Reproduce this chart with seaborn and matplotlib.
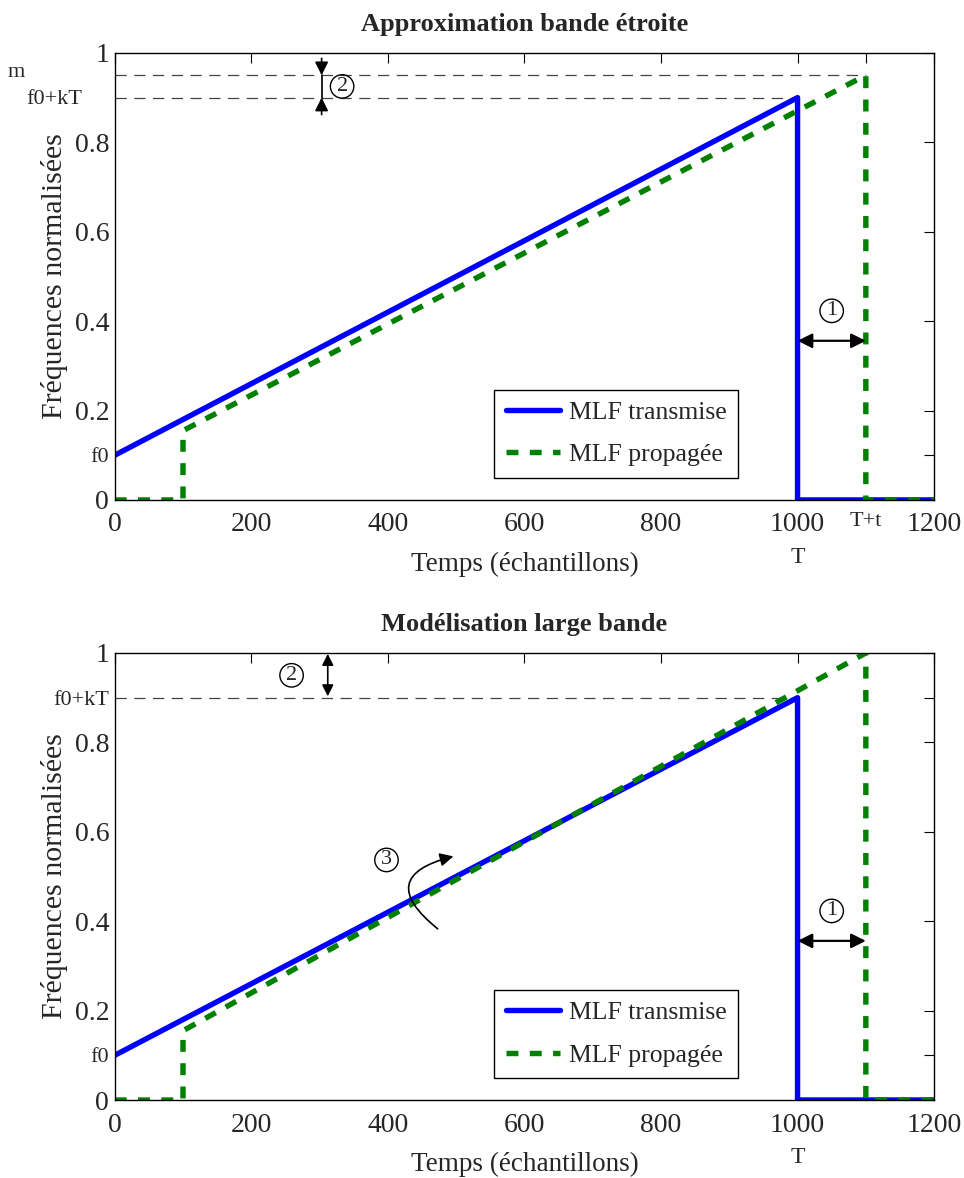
import numpy as np
import pandas as pd
import matplotlib
matplotlib.use('Agg')
import matplotlib.pyplot as plt
import matplotlib.transforms as mtransforms
import seaborn as sns

# data
time_tx = [0, 1000, 1000, 1200]
freq_tx = [0.1, 0.9, 0.0, 0.0]
time_rx = [0, 100, 100, 1100, 1100, 1200]
freq_rx_narrow = [0.0, 0.0, 0.155, 0.95, 0.0, 0.0]
freq_rx_wide = [0.0, 0.0, 0.155, 1.0, 0.0, 0.0]

titles = ['Approximation bande étroite', 'Modélisation large bande']
legend_labels = ['MLF transmise', 'MLF propagée']
xticks = [0, 200, 400, 600, 800, 1000, 1200]

sns.set_style('white')
plt.rcParams['font.family'] = ['Liberation Serif', 'DejaVu Serif']

fig = plt.figure(figsize=(9.64, 11.78), dpi=100)
ax1 = fig.add_axes([0.119, 0.5756, 0.850, 0.3795])
ax2 = fig.add_axes([0.119, 0.0662, 0.850, 0.3795])

FS = 20
SMALL = 16
CIRC = dict(boxstyle='circle,pad=0.1', fc='none', ec='black', lw=1)


def base(ax, rx, title):
    sns.lineplot(x=time_tx, y=freq_tx, ax=ax, color='#0000ff', lw=3.9,
                 sort=False, estimator=None, label=legend_labels[0])
    sns.lineplot(x=time_rx, y=rx, ax=ax, color='#008000', lw=3.9,
                 sort=False, estimator=None, label=legend_labels[1],
                 linestyle=(0, (2.2, 2.1)))
    ax.set_xlim(0, 1200)
    ax.set_ylim(0, 1)
    ax.set_title(title, fontsize=19, fontweight='bold', pad=16)
    ax.set_ylabel('Fréquences normalisées', fontsize=21.5)
    ax.set_xlabel('Temps (échantillons)', fontsize=19.5)
    ax.xaxis.set_label_coords(0.5, -0.116)
    ax.yaxis.set_label_coords(-0.0574, 0.5)
    for s in ax.spines.values():
        s.set_visible(True)
        s.set_color('black')
        s.set_linewidth(1.0)
    ax.tick_params(direction='in', top=True, right=True, length=7,
                   width=0.8, labelsize=FS, color='black')
    ax.tick_params(axis='x', pad=9)
    ax.tick_params(axis='y', pad=4)
    leg = ax.legend(loc='lower right', bbox_to_anchor=(0.761, 0.049),
                    borderaxespad=0, fontsize=18.5, fancybox=False,
                    framealpha=1, edgecolor='black', handlelength=2.1,
                    borderpad=0.45, labelspacing=0.75, handletextpad=0.35)
    leg.get_frame().set_linewidth(1.0)
    # arrow 1 (delay)
    ax.annotate('', xy=(1000, 0.356), xytext=(1100, 0.356),
                arrowprops=dict(arrowstyle='<|-|>', color='black', lw=1.6,
                                mutation_scale=22, shrinkA=0, shrinkB=0))
    ax.text(1050, 0.423, '1', fontsize=16, ha='center', va='center', bbox=CIRC)
    # "T" under 1000
    trans = mtransforms.blended_transform_factory(ax.transData, ax.transAxes)
    ax.text(1000, -0.128, 'T', transform=trans, fontsize=SMALL + 1,
            ha='center', va='center')


def shrink_labels(labels):
    for lab in labels:
        if lab.get_text() in ('f0', 'f0+kT', 'T+t'):
            lab.set_fontsize(SMALL)


base(ax1, freq_rx_narrow, titles[0])
base(ax2, freq_rx_wide, titles[1])

# top panel
ax1.set_xticks([0, 200, 400, 600, 800, 1000, 1100, 1200])
ax1.set_xticklabels(['0', '200', '400', '600', '800', '1000', 'T+t', '1200'])
ax1.set_yticks([0, 0.1, 0.2, 0.4, 0.6, 0.8, 1])
ax1.set_yticklabels(['0', 'f0', '0.2', '0.4', '0.6', '0.8', '1'])
shrink_labels(ax1.get_xticklabels() + ax1.get_yticklabels())
ax1.text(-0.110, 0.957, 'm', transform=ax1.transAxes, fontsize=SMALL,
         ha='right', va='center')
ax1.text(-0.040, 0.895, 'f0+kT', transform=ax1.transAxes, fontsize=SMALL,
         ha='right', va='center')
ax1.plot([0, 1100], [0.95, 0.95], color='#444444', lw=0.9, ls=(0, (9, 6)), zorder=1)
ax1.plot([0, 1000], [0.9, 0.9], color='#444444', lw=0.9, ls=(0, (9, 6)), zorder=1)
ax1.plot([303, 303], [0.95, 0.9], color='black', lw=1.2)
ax1.annotate('', xy=(303, 0.95), xytext=(303, 0.988),
             arrowprops=dict(arrowstyle='-|>', color='black', lw=1.2,
                             mutation_scale=20, shrinkA=0, shrinkB=0))
ax1.annotate('', xy=(303, 0.9), xytext=(303, 0.862),
             arrowprops=dict(arrowstyle='-|>', color='black', lw=1.2,
                             mutation_scale=20, shrinkA=0, shrinkB=0))
ax1.text(333, 0.925, '2', fontsize=16, ha='center', va='center', bbox=CIRC)

# bottom panel
ax2.set_xticks(xticks)
ax2.set_xticklabels(['0', '200', '400', '600', '800', '1000', '1200'])
ax2.set_yticks([0, 0.1, 0.2, 0.4, 0.6, 0.8, 0.9, 1])
ax2.set_yticklabels(['0', 'f0', '0.2', '0.4', '0.6', '0.8', 'f0+kT', '1'])
shrink_labels(ax2.get_yticklabels())
ax2.plot([0, 1000], [0.9, 0.9], color='#444444', lw=0.9, ls=(0, (9, 6)), zorder=1)
ax2.annotate('', xy=(312, 0.998), xytext=(312, 0.903),
             arrowprops=dict(arrowstyle='<|-|>', color='black', lw=1.2,
                             mutation_scale=17, shrinkA=0, shrinkB=0))
ax2.text(259, 0.95, '2', fontsize=16, ha='center', va='center', bbox=CIRC)
ax2.text(398, 0.537, '3', fontsize=16, ha='center', va='center', bbox=CIRC)
ax2.annotate('', xy=(496, 0.545), xytext=(473, 0.383),
             arrowprops=dict(arrowstyle='-|>', color='black', lw=1.2,
                             mutation_scale=20, shrinkA=0, shrinkB=0,
                             connectionstyle='arc3,rad=-1.0'))

fig.savefig('out.png', dpi=100)
